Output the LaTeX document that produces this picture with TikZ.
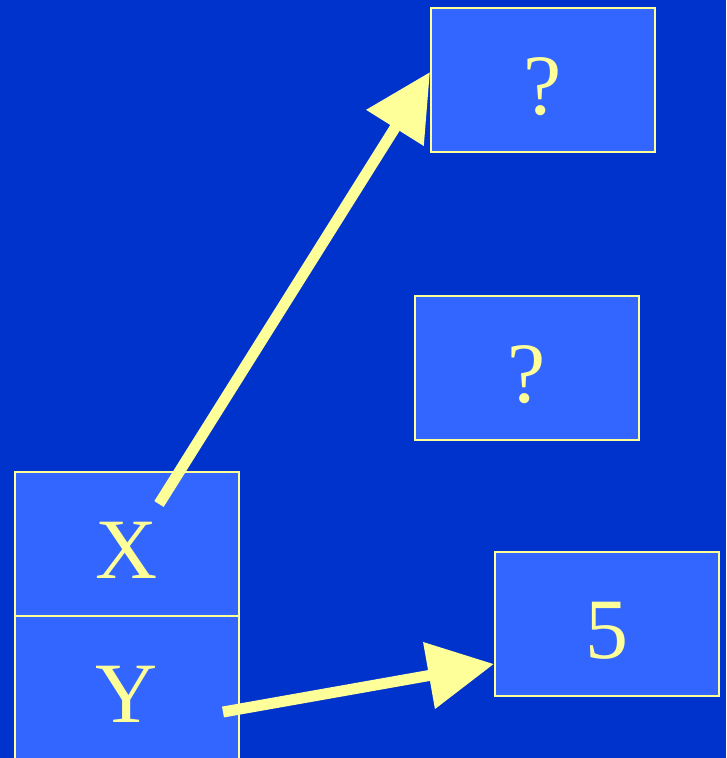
\documentclass[tikz,border=0pt]{standalone}
\usepackage{fontspec}
\setmainfont{Liberation Serif}
\usetikzlibrary{arrows.meta}
\definecolor{bgblue}{HTML}{0033CC}
\definecolor{boxblue}{HTML}{3366FF}
\definecolor{ltyellow}{HTML}{FFFF99}
\tikzset{
  cell/.style={draw=ltyellow, line width=2pt, fill=boxblue, inner sep=0pt,
    minimum width=224pt, minimum height=144pt, text=ltyellow,
    font=\fontsize{86}{90}\selectfont, text height=68pt, text depth=0pt},
  ptr/.style={draw=ltyellow, line width=11pt,
    -{Triangle[length=66pt,width=65pt]}}
}
\begin{document}
\begin{tikzpicture}[x=1pt,y=-1pt]
\useasboundingbox (0,0) rectangle (726,758);
\fill[bgblue] (0,0) rectangle (726,758);
\node[cell] (top) at (543,80) {?};
\node[cell] (mid) at (527,368) {?};
\node[cell] (five) at (607,624) {5};
\node[cell] (x) at (127,544) {X};
\node[cell] (y) at (127,688) {Y};
\coordinate (xs) at (159,504);
\coordinate (ys) at (223,712);
\coordinate (t1) at ([yshift=8pt]top.west);
\coordinate (t2) at ([yshift=-40pt]five.west);
\draw[ptr] (xs) -- (t1);
\draw[ptr] (ys) -- (t2);
\end{tikzpicture}
\end{document}
